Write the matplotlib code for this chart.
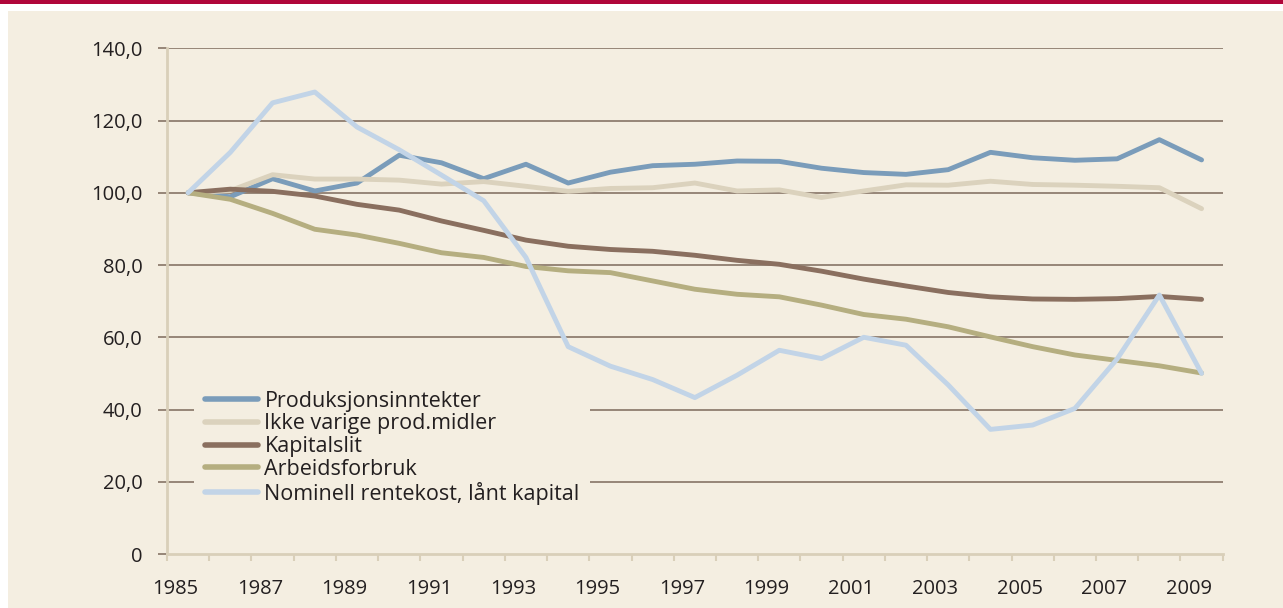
import matplotlib.pyplot as plt
from matplotlib.patches import Rectangle
import numpy as np

years = list(range(1985, 2010))

produksjon = [100, 98.9, 103.9, 100.5, 102.7, 110.4, 108.3, 103.9, 107.9, 102.7,
              105.7, 107.5, 107.9, 108.8, 108.7, 106.8, 105.6, 105.1, 106.4, 111.2,
              109.7, 109.0, 109.4, 114.7, 109.1]
ikke_varige = [100, 100.6, 105.0, 103.8, 103.8, 103.5, 102.4, 103.1, 101.8, 100.4,
               101.2, 101.4, 102.7, 100.5, 100.8, 98.7, 100.5, 102.2, 102.1, 103.2,
               102.3, 102.1, 101.8, 101.4, 95.6]
kapitalslit = [100, 101.0, 100.4, 99.1, 96.8, 95.2, 92.2, 89.6, 86.9, 85.2,
               84.3, 83.8, 82.7, 81.3, 80.2, 78.3, 76.1, 74.2, 72.4, 71.2,
               70.6, 70.5, 70.7, 71.3, 70.5]
arbeid = [100, 98.2, 94.3, 89.9, 88.3, 86.0, 83.4, 82.1, 79.6, 78.4,
          77.9, 75.6, 73.3, 71.9, 71.2, 68.9, 66.3, 65.0, 62.9, 60.1,
          57.4, 55.1, 53.6, 52.1, 50.1]
rentekost = [100, 111.2, 124.9, 127.9, 118.2, 111.9, 104.9, 97.8, 82.1, 57.4,
             52.0, 48.3, 43.3, 49.5, 56.4, 54.1, 60.0, 57.8, 46.8, 34.5,
             35.7, 40.3, 54.0, 71.7, 50.0]

series = [
    ("Produksjonsinntekter", produksjon, "#7a9cba"),
    ("Ikke varige prod.midler", ikke_varige, "#dbd2bd"),
    ("Kapitalslit", kapitalslit, "#8a6f5f"),
    ("Arbeidsforbruk", arbeid, "#b5ae80"),
    ("Nominell rentekost, lånt kapital", rentekost, "#c2d4e7"),
]

bg = "#f4eee1"
txt = "#231f20"
plt.rcParams['font.family'] = ['Open Sans', 'DejaVu Sans']

fig = plt.figure(figsize=(12.83, 6.08), dpi=100, facecolor="white")
fig.add_artist(Rectangle((8 / 1283, 0), 1, (608 - 11) / 608, transform=fig.transFigure,
                         facecolor=bg, edgecolor="none", zorder=-10))
fig.add_artist(Rectangle((0, (608 - 3.5) / 608), 1, 3.5 / 608, transform=fig.transFigure,
                         facecolor="#b0063a", edgecolor="none", zorder=-10))

ax = fig.add_axes([167 / 1283, 54 / 608, (1222.7 - 167) / 1283, (554 - 48.3) / 608])
ax.set_facecolor("none")

x = np.arange(len(years)) + 0.5
for name, vals, col in series:
    ax.plot(x, vals, color=col, lw=3.5, label=name, solid_capstyle="round",
            solid_joinstyle="round", zorder=3)

ax.set_xlim(0, len(years))
ax.set_ylim(0, 140)

yt = np.arange(0, 141, 20)
ax.set_yticks(yt)
ax.set_yticklabels(["0" if v == 0 else f"{v:.1f}".replace(".", ",") for v in yt])
for v in yt[1:]:
    ax.axhline(v, color="#8f7e6f", lw=1.3, zorder=1)
ax.tick_params(axis="y", length=6.5, width=1.3, color="#8f7e6f", pad=11,
               labelsize=14.5, labelcolor=txt)

ax.set_xticks(np.arange(0, len(years), 2) + 0.2)
ax.set_xticklabels([str(y) for y in years[::2]])
ax.set_xticks(np.arange(0, len(years) + 1), minor=True)
ax.tick_params(axis="x", which="major", length=0, pad=18, labelsize=14.5, labelcolor=txt)
ax.tick_params(axis="x", which="minor", length=5, width=1.5, color="#d9cfb9")

for s in ["top", "right"]:
    ax.spines[s].set_visible(False)
ax.spines["left"].set_color("#d9cfb9")
ax.spines["left"].set_linewidth(2)
ax.spines["bottom"].set_color("#d9cfb9")
ax.spines["bottom"].set_linewidth(2)

leg = ax.legend(loc="upper left", bbox_to_anchor=(194 / 1283, (608 - 380) / 608),
                bbox_transform=fig.transFigure, fontsize=15.5, frameon=True,
                facecolor=bg, edgecolor="none", framealpha=1, handlelength=2.45,
                handletextpad=0.32, labelspacing=0.08, borderpad=0.5, borderaxespad=0)
for t in leg.get_texts():
    t.set_color(txt)
for h in leg.get_lines():
    h.set_linewidth(4)
leg.set_zorder(5)

fig.savefig("out.png", dpi=100, facecolor=fig.get_facecolor())
